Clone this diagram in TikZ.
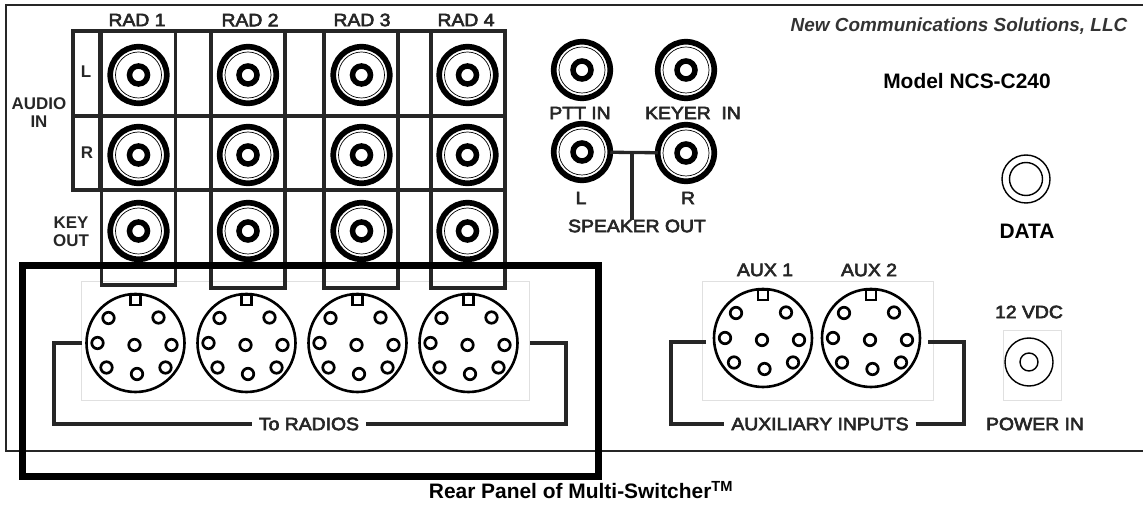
\documentclass[tikz,border=0pt]{standalone}
\usepackage{fontspec}
\setmainfont{Liberation Sans}
\newfontfamily\widefont[RawFeature={extend=1.08;embolden=3.5}]{Liberation Sans}
\newcommand{\lblfont}{\widefont\fontsize{18}{20}\selectfont}
\tikzset{
  every node/.style={inner sep=0pt,outer sep=0pt,text=black!85},
  lbl/.style={font=\lblfont,align=center},
  lblb/.style={font=\fontsize{17}{19}\selectfont\bfseries,align=center},
  gridline/.style={draw=black!85,line width=3.3bp},
  bracket/.style={draw=black!85,line width=3.3bp,line join=miter},
  lightbox/.style={draw=black!12,line width=1bp,rectangle},
  jackout/.style={circle,draw=black,line width=5.7bp,minimum size=56.5bp,fill=white},
  jackmid/.style={circle,draw=black,line width=.7bp,minimum size=46bp},
  jackin/.style={circle,draw=black,line width=5.5bp,minimum size=18bp},
  din/.style={circle,draw=black,line width=2.6bp,minimum size=98bp},
  pin/.style={circle,draw=black,line width=2.7bp,minimum size=11.5bp},
  keyway/.style={rectangle,draw=black,line width=2.4bp,minimum size=10bp},
  ring/.style={circle,draw=black,line width=1.4bp},
}
\newcommand{\jack}[3]{%
  \node[jackout] (#1) at (#2,#3) {};
  \node[jackmid] (#1m) at (#2,#3) {};
  \node[jackin] (#1i) at (#2,#3) {};
}
\newcommand{\dinconn}[3]{%
  \node[din] (#1) at (#2,#3) {};
  \node[keyway] (#1k) at (#2,#3-43) {};
  \node[pin] (#1a) at (#2-27,#3-25) {};
  \node[pin] (#1b) at (#2+23,#3-25.5) {};
  \node[pin] (#1c) at (#2-38,#3) {};
  \node[pin] (#1d) at (#2-1,#3+2) {};
  \node[pin] (#1e) at (#2+36,#3+2) {};
  \node[pin] (#1f) at (#2-29,#3+24.5) {};
  \node[pin] (#1g) at (#2+1.5,#3+31) {};
  \node[pin] (#1h) at (#2+30,#3+24.5) {};
}
\begin{document}
\begin{tikzpicture}[x=1bp,y=-1bp]
\useasboundingbox (0,0) rectangle (1143,506);
\draw[black!85,line width=1.5bp] (1143,5) -- (6,5) -- (6,451) -- (1143,451);

% light panels
\node[lightbox,minimum width=447bp,minimum height=118bp] (dinpanel) at (305.5,341) {};
\node[lightbox,minimum width=231bp,minimum height=118bp] (auxpanel) at (817.5,341) {};
\node[lightbox,minimum width=58bp,minimum height=69bp] (pwrpanel) at (1032,365.5) {};

% audio grid
\coordinate (gTL) at (73,31); \coordinate (gTR) at (505,31);
\coordinate (gML) at (73,116); \coordinate (gMR) at (505,116);
\coordinate (gBL) at (73,190); \coordinate (gBR) at (505,190);
\coordinate (gS1) at (100,31); \coordinate (gS2) at (100,190);
\draw[gridline] (gBR) -- (gBL) -- (gTL) -- (gTR);
\draw[gridline] (gML) -- (gMR);
\draw[gridline] (gS1) -- (gS2);

% radio columns
\foreach \n/\x/\b in {a/138.5/285,b/248/288,c/361/288,d/468/288}{
  \node[draw=black!85,line width=3.3bp,minimum width=74bp,minimum height=\b bp-31bp,anchor=north] (col\n) at (\x,31) {};
}

\jack{a1}{138.5}{75}\jack{a2}{138.5}{155}\jack{a3}{138.5}{231}
\jack{b1}{248}{75}\jack{b2}{248}{155}\jack{b3}{248}{231}
\jack{c1}{361.5}{75}\jack{c2}{361.5}{155}\jack{c3}{361.5}{231}
\jack{d1}{467.5}{75}\jack{d2}{467.5}{155}\jack{d3}{467.5}{231}

\node[lbl] (rad1) at (137,20) {RAD 1};
\node[lbl] (rad2) at (250,20) {RAD 2};
\node[lbl] (rad3) at (362,20) {RAD 3};
\node[lbl] (rad4) at (466,20) {RAD 4};
\node[lblb] (lL) at (86,72) {L};
\node[lblb] (lR) at (87,153) {R};
\node[lblb] (audio) at (39,113) {AUDIO\\[-1pt]IN};
\node[lblb] (key) at (71,232) {KEY\\[-1pt]OUT};

% speaker / ptt jacks
\jack{ptt}{582}{70}
\jack{keyer}{686}{70}
\jack{spl}{582}{152}
\jack{spr}{686}{153}
\node[lbl] (pttl) at (580,113) {PTT IN};
\node[lbl] (keyl) at (693,113) {KEYER\ \ IN};
\node[lbl] (ll) at (581,198) {L};
\node[lbl] (rl) at (688,198) {R};
\node[lbl] (spk) at (637,226) {SPEAKER OUT};
\draw[bracket] (spl) -- (spr);
\coordinate (spT) at (632,152);
\draw[bracket] (spT) -- (spk.north -| spT);

% din connectors
\dinconn{din1}{135.5}{343}
\dinconn{din2}{246.5}{343}
\dinconn{din3}{357.5}{343}
\dinconn{din4}{468.5}{343}
\dinconn{aux1}{763}{338}
\dinconn{aux2}{871}{338}

\node[lbl] (radios) at (309,424) {To RADIOS};
\coordinate (r1) at (82,343); \coordinate (r2) at (54,343); \coordinate (r3) at (54,424);
\coordinate (r4) at (566,424); \coordinate (r5) at (566,343); \coordinate (r6) at (530,343);
\draw[bracket] (r1) -- (r2) -- (r3) -- ([xshift=-7bp]radios.west);
\draw[bracket] ([xshift=7bp]radios.east) -- (r4) -- (r5) -- (r6);

\node[lbl] (auxin) at (820,424) {AUXILIARY INPUTS};
\coordinate (x1) at (706,342); \coordinate (x2) at (671,342); \coordinate (x3) at (671,424);
\coordinate (x4) at (964,424); \coordinate (x5) at (964,342); \coordinate (x6) at (928,342);
\draw[bracket] (x1) -- (x2) -- (x3) -- ([xshift=-7bp]auxin.west);
\draw[bracket] ([xshift=7bp]auxin.east) -- (x4) -- (x5) -- (x6);

\node[lbl] (aux1l) at (765,270) {AUX 1};
\node[lbl] (aux2l) at (869,270) {AUX 2};

% power + data
\node[ring,minimum size=48bp] (pwr) at (1029,362) {};
\node[ring,minimum size=18bp] (pwri) at (1029,362) {};
\node[lbl] (vdc) at (1029,312) {12 VDC};
\node[lbl] (pwrl) at (1035,424) {POWER IN};
\node[ring,minimum size=48bp] (data) at (1026,179) {};
\node[ring,minimum size=33bp] (datai) at (1026,179) {};
\node[font=\fontsize{21}{23}\selectfont\bfseries,text=black] (datal) at (1027,231) {DATA};

\node[font=\fontsize{19}{21}\selectfont\itshape\bfseries,text=black!80] (ncs) at (959,26) {New Communications Solutions, LLC};
\node[font=\fontsize{21}{23}\selectfont\bfseries,text=black] (model) at (967,81) {Model NCS-C240};

% highlight box
\node[draw=black,line width=7bp,minimum width=576bp,minimum height=211bp,anchor=north west] (hl) at (22.5,265.5) {};

\node[font=\fontsize{21}{23}\selectfont\bfseries,text=black] (cap) at (581,490) {Rear Panel of Multi-Switcher\textsuperscript{TM}};
\end{tikzpicture}
\end{document}
